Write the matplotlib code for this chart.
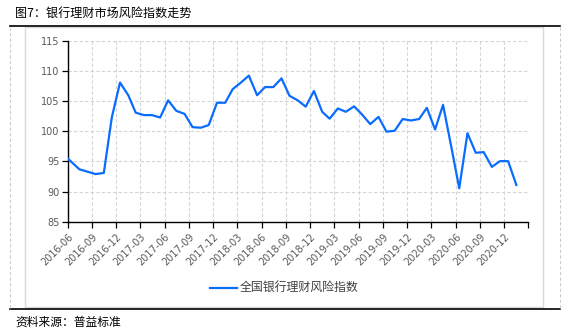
import matplotlib
matplotlib.use("Agg")
import matplotlib.pyplot as plt
import matplotlib.dates as mdates
from matplotlib.lines import Line2D
from matplotlib.patches import Rectangle
import pandas as pd

plt.rcParams['font.family'] = ['Noto Sans CJK SC', 'DejaVu Sans']

# first observation mid-June, then month-end values
dates = ["2016-06-17"] + [d.strftime("%Y-%m-%d") for d in
                          pd.date_range("2016-07-31", "2021-01-31", freq="ME")]
risk_index = [95.5, 93.7, 93.3, 92.9, 93.1, 102.3, 108.1, 106.0, 103.1, 102.7,
              102.7, 102.3, 105.15, 103.4, 102.9, 100.7, 100.6, 101.05, 104.75, 104.75,
              107.0, 108.1, 109.25, 106.0, 107.35, 107.35, 108.8, 105.9, 105.15, 104.1,
              106.7, 103.25, 102.1, 103.8, 103.25, 104.15, 102.8, 101.2, 102.4, 99.95,
              100.1, 102.05, 101.8, 102.05, 103.9, 100.3, 104.4, 97.45, 90.55, 99.7,
              96.45, 96.55, 94.1, 95.05, 95.05, 91.1]
y_ticks = [85, 90, 95, 100, 105, 110, 115]

title = "图7：银行理财市场风险指数走势"
series_name = "全国银行理财风险指数"
source = "资料来源：普益标准"

W, H = 569, 334
fig = plt.figure(figsize=(W / 100, H / 100), dpi=100)

def fx(px):
    return px / W

def fy(py):
    return 1 - py / H

ax = fig.add_axes([fx(67.7), fy(221.7), fx(528.3) - fx(67.7), fy(41) - fy(221.7)])

x = pd.to_datetime(dates)
ax.plot(x, risk_index, color="#0a6cff", lw=1.6, solid_joinstyle="round", zorder=3)

# quarterly ticks counted from the first observation
ticks = [x[0] + pd.DateOffset(months=3 * k) for k in range(20)]
ax.set_xlim(mdates.date2num(ticks[0]), mdates.date2num(ticks[-1]))
ax.set_xticks(mdates.date2num(ticks))
labels = [t.strftime("%Y-%m") for t in ticks[:-1]] + [""]
ax.set_xticklabels(labels, rotation=45, ha="right", va="top",
                   rotation_mode="anchor", fontsize=7, color="#595959",
                   family="DejaVu Sans")
ax.set_ylim(85, 115)
ax.set_yticks(y_ticks)
ax.set_yticklabels([str(v) for v in y_ticks], fontsize=7, color="#595959",
                   family="DejaVu Sans")

ax.tick_params(axis="x", length=4, width=0.9, pad=3)
ax.tick_params(axis="y", length=4, width=0.9, pad=2)
ax.grid(True, color="#d4d4d4", ls=(0, (3, 2)), lw=0.8)
ax.set_axisbelow(True)
for side in ("top", "right"):
    ax.spines[side].set_visible(False)
for side in ("left", "bottom"):
    ax.spines[side].set_linewidth(1.0)

# legend drawn by hand under the axis labels
fig.add_artist(Line2D([fx(210), fx(237)], [fy(287.7), fy(287.7)],
                      color="#0a6cff", lw=1.6))
fig.text(fx(240), fy(287.7), series_name, fontsize=8.6, color="#404040",
         va="center", ha="left")

# report frame: rules, dashed sides and chart border
fig.add_artist(Line2D([fx(10), fx(560)], [fy(26), fy(26)], color="black", lw=1.2))
fig.add_artist(Line2D([fx(10), fx(560)], [fy(309), fy(309)], color="black", lw=1.2))
for px in (10, 560):
    fig.add_artist(Line2D([fx(px), fx(px)], [fy(27), fy(308)], color="#cccccc",
                          lw=0.8, ls=(0, (3, 2))))
fig.add_artist(Rectangle((fx(25), fy(307.3)), fx(542.7) - fx(25), fy(27.3) - fy(307.3),
                         fill=False, edgecolor="#dadada", lw=1.0,
                         transform=fig.transFigure))

fig.text(fx(15), fy(13), title, fontsize=8.7, color="black", va="center", ha="left")
fig.text(fx(15), fy(322.5), source, fontsize=8.5, color="black", va="center", ha="left")

fig.savefig("out.png", dpi=100)
